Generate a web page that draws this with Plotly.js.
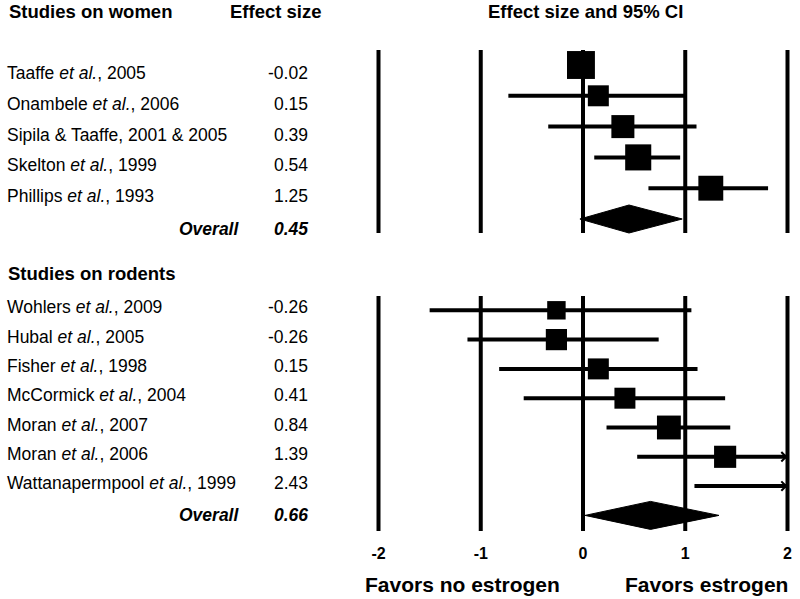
<!DOCTYPE html>
<html>
<head>
<meta charset="utf-8">
<script src="https://cdn.plot.ly/plotly-3.0.1.min.js"></script>
<style>html,body{margin:0;padding:0;background:#fff;}#chart{width:800px;height:599px;}</style>
</head>
<body>
<div id="chart"></div>
<script>
// ---------- DATA ----------
const womenStudies = ['Taaffe <i>et al.</i>, 2005', 'Onambele <i>et al.</i>, 2006', 'Sipila &amp; Taaffe, 2001 &amp; 2005', 'Skelton <i>et al.</i>, 1999', 'Phillips <i>et al.</i>, 1993'];
const womenES = [-0.02, 0.15, 0.39, 0.54, 1.25];
const womenLo = [-0.12, -0.73, -0.34, 0.11, 0.64];
const womenHi = [0.08, 1.00, 1.11, 0.95, 1.81];
const womenWeight = [7.8, 4.4, 5.3, 6.8, 6.2];
const womenOverall = 0.45, womenOverallLo = -0.03, womenOverallHi = 0.97;

const rodentStudies = ['Wohlers <i>et al.</i>, 2009', 'Hubal <i>et al.</i>, 2005', 'Fisher <i>et al.</i>, 1998', 'McCormick <i>et al.</i>, 2004', 'Moran <i>et al.</i>, 2007', 'Moran <i>et al.</i>, 2006', 'Wattanapermpool <i>et al.</i>, 1999'];
const rodentES = [-0.26, -0.26, 0.15, 0.41, 0.84, 1.39, 2.43];
const rodentLo = [-1.50, -1.13, -0.82, -0.58, 0.23, 0.53, 1.09];
const rodentHi = [1.06, 0.74, 1.12, 1.39, 1.44, 2.25, 3.77];
const rodentWeight = [3.4, 4.5, 4.4, 4.4, 5.7, 4.9, 4.0];
const rodentOverall = 0.66, rodentOverallLo = 0.02, rodentOverallHi = 1.33;

const xTicks = [-2, -1, 0, 1, 2];
const xTickText = ['-2', '-1', '0', '1', '2'];

// ---------- LAYOUT HELPERS ----------
const W = 800, H = 599;
const px = v => v / W;            // horizontal pixel -> paper
const py = v => 1 - v / H;        // vertical pixel -> paper
const FONT = 'Liberation Sans, Arial, sans-serif';
const XMAX = xTicks[xTicks.length - 1];

// row geometry (pixels): women rows start at 65, spacing 30.8; rodents start 310.3, spacing 29.3
const wTop = 65, wStep = 30.8, rTop = 310.3, rStep = 29.3;
const yRangeW = [(H - wTop) / wStep, -wTop / wStep];
const yRangeR = [(H - rTop) / rStep, -rTop / rStep];

function ciTrace(lo, hi, yaxis) {
  const x = [], y = [];
  lo.forEach((l, i) => { x.push(l, Math.min(hi[i], XMAX), null); y.push(i, i, null); });
  return {x, y, yaxis, type: 'scatter', mode: 'lines', line: {color: '#000', width: 4}, hoverinfo: 'skip', showlegend: false};
}
function sqTrace(es, wt, yaxis) {
  const x = [], y = [], s = [];
  es.forEach((e, i) => { if (e <= XMAX) { x.push(e); y.push(i); s.push(10 * Math.sqrt(wt[i])); } });
  return {x, y, yaxis, type: 'scatter', mode: 'markers', marker: {symbol: 'square', color: '#000', opacity: 1, size: s, line: {width: 0}}, showlegend: false};
}
function diamond(est, lo, hi, row, half, yaxis) {
  return {x: [lo, est, hi, est, lo], y: [row, row - half, row, row + half, row], yaxis, type: 'scatter', mode: 'lines',
    fill: 'toself', fillcolor: '#000', line: {color: '#000', width: 1}, showlegend: false};
}

const traces = [
  ciTrace(womenLo, womenHi, 'y'),
  sqTrace(womenES, womenWeight, 'y'),
  diamond(womenOverall, womenOverallLo, womenOverallHi, womenStudies.length, 14 / wStep, 'y'),
  ciTrace(rodentLo, rodentHi, 'y2'),
  sqTrace(rodentES, rodentWeight, 'y2'),
  diamond(rodentOverall, rodentOverallLo, rodentOverallHi, rodentStudies.length, 14 / rStep, 'y2')
];

// vertical reference lines in both panels
const shapes = [];
xTicks.forEach(t => {
  shapes.push({type: 'line', xref: 'x', yref: 'paper', x0: t, x1: t, y0: py(50), y1: py(233), line: {color: '#000', width: 4}});
  shapes.push({type: 'line', xref: 'x', yref: 'paper', x0: t, x1: t, y0: py(296), y1: py(531), line: {color: '#000', width: 4}});
});

const ann = [];
const txt = (text, x, xanchor, yref, y, size, yshift, extra) => Object.assign({
  text, x, xref: 'paper', xanchor, y, yref, yanchor: 'middle', yshift: yshift || 0, showarrow: false,
  font: {family: FONT, size, color: '#000'}
}, extra || {});

// headers
ann.push(txt('<b>Studies on women</b>', px(7), 'left', 'paper', py(11), 18.5));
ann.push(txt('<b>Effect size</b>', px(228), 'left', 'paper', py(11), 18.5));
ann.push(txt('<b>Effect size and 95% CI</b>', px(585), 'center', 'paper', py(11), 18.5));
ann.push(txt('<b>Studies on rodents</b>', px(6), 'left', 'paper', py(273), 18.5));

womenStudies.forEach((s, i) => {
  ann.push(txt(s, px(5), 'left', 'y', i, 17.5, -8));
  ann.push(txt(womenES[i].toFixed(2), px(310), 'right', 'y', i, 17.5, -8));
});
ann.push(txt('<b><i>Overall</i></b>', px(241), 'right', 'y', womenStudies.length, 17.5, -10));
ann.push(txt('<b><i>' + womenOverall.toFixed(2) + '</i></b>', px(310), 'right', 'y', womenStudies.length, 17.5, -10));

rodentStudies.forEach((s, i) => {
  ann.push(txt(s, px(5), 'left', 'y2', i, 17.5, 3));
  ann.push(txt(rodentES[i].toFixed(2), px(310), 'right', 'y2', i, 17.5, 3));
});
ann.push(txt('<b><i>Overall</i></b>', px(241), 'right', 'y2', rodentStudies.length, 17.5, 0));
ann.push(txt('<b><i>' + rodentOverall.toFixed(2) + '</i></b>', px(310), 'right', 'y2', rodentStudies.length, 17.5, 0));

// arrows for CIs that run beyond the axis
rodentHi.forEach((h, i) => {
  if (h > XMAX) ann.push({x: XMAX, xref: 'x', y: i, yref: 'y2', ax: -14, ay: 0, showarrow: true,
    arrowhead: 4, arrowwidth: 1.4, arrowsize: 1.3, arrowcolor: '#000', text: ''});
});

// axis titles
ann.push(txt('<b>Favors no estrogen</b>', px(462), 'center', 'paper', py(584), 21));
ann.push(txt('<b>Favors estrogen</b>', px(706), 'center', 'paper', py(584), 21));

const layout = {
  width: W, height: H,
  margin: {l: 0, r: 0, t: 0, b: 0},
  paper_bgcolor: '#fff', plot_bgcolor: '#fff',
  showlegend: false,
  xaxis: {range: [-2 - 378.5 / 102.25, 2 + 12.5 / 102.25], domain: [0, 1], anchor: 'free', position: py(531),
    tickvals: xTicks, ticktext: xTickText.map(t => '<b>' + t + '</b>'), ticks: '', ticklabelstandoff: 11,
    showgrid: false, zeroline: false, showline: false, tickfont: {family: FONT, size: 16, color: '#000'}, fixedrange: true},
  yaxis: {range: yRangeW, domain: [0, 1], visible: false, fixedrange: true},
  yaxis2: {range: yRangeR, domain: [0, 1], overlaying: 'y', visible: false, fixedrange: true},
  shapes, annotations: ann
};

Plotly.newPlot('chart', traces, layout, {staticPlot: true, displayModeBar: false});
</script>
</body>
</html>
